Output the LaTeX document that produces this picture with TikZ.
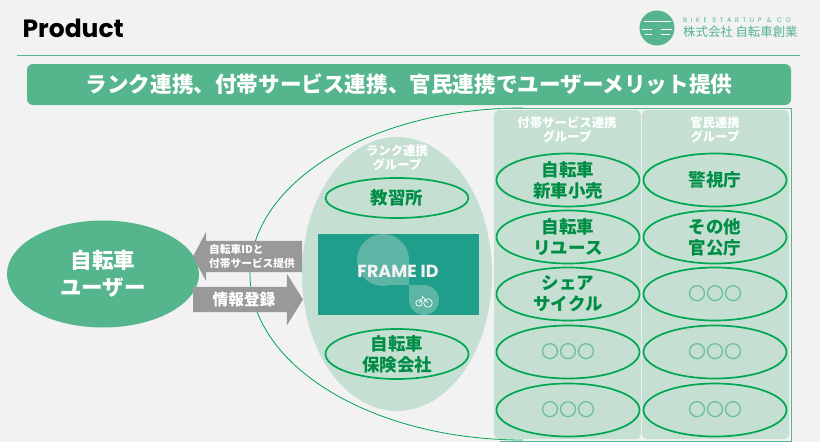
\documentclass[tikz,border=0pt]{standalone}
\usepackage{fontspec}
\setmainfont{Poppins}
\newfontfamily\jpfont{Noto Sans CJK JP}
\usetikzlibrary{positioning,shapes.geometric,shapes.arrows}
\definecolor{bggray}{HTML}{F2F2F2}
\definecolor{brandgreen}{HTML}{55B58D}
\definecolor{palegreen}{HTML}{C5E0D2}
\definecolor{ringgreen}{HTML}{00A651}
\definecolor{idteal}{HTML}{1F9E8C}
\definecolor{idlight}{HTML}{5DB5A6}
\definecolor{arrowgray}{HTML}{999999}
\newcommand{\jptext}[2]{\fontsize{#1}{#2}\selectfont\jpfont\bfseries}
\begin{document}
\begin{tikzpicture}[x=1pt,y=-1pt,
  member/.style={ellipse,draw=ringgreen,line width=1.7pt,minimum width=143pt,minimum height=53pt,inner sep=0pt,
    label={[memberlabel]center:#1}},
  memberlabel/.style={text=ringgreen!85!black,align=center,font=\jptext{17.5}{21}},
  blank/.style={member={\textcolor{brandgreen!80!palegreen}{\fontsize{18}{18}\selectfont\jpfont\mdseries 〇〇〇}}},
  grouplabel/.style={text=white,align=center,font=\jptext{12.4}{14}},
  blockarrow/.style={single arrow,fill=arrowgray,inner sep=0pt,outer sep=0pt,single arrow head indent=0pt,text depth=0pt},
  panel/.style={fill=palegreen,rounded corners=5pt}]
\useasboundingbox (0,0) rectangle (820,442);
\fill[bggray] (0,0) rectangle (820,442);

\node[anchor=west,font=\fontsize{25}{25}\selectfont\bfseries] (title) at (19,28) {Product};
\fill[brandgreen] (657,28) circle (17.5pt);
\draw[white,line width=1pt] (644,21) -- (671,21) (642,29) -- (652,29) (661,29) -- (672,29) (645,34) -- (652,34) (661,34) -- (670,34);
\node[anchor=west,inner sep=0pt,text=brandgreen,font=\fontsize{6.4}{6.4}\selectfont] (logoname) at (683,20) {\addfontfeature{LetterSpace=58}BIKE STARTUP \& CO.};
\node[anchor=west,inner sep=0pt,text=brandgreen,font=\fontsize{12.4}{12}\selectfont\jpfont] (logocompany) at (683,32) {株式会社 自転車創業};
\draw[brandgreen,line width=0.8pt] (17,55) -- (800,55);

\node[fill=brandgreen,rounded corners=6pt,minimum width=764pt,minimum height=41pt,inner sep=0pt,text=white,
  font=\jptext{21.6}{24}] (banner) at (409,84.5) {ランク連携、付帯サービス連携、官民連携でユーザーメリット提供};

\draw[ringgreen,line width=0.8pt] (523,108) arc[start angle=90,end angle=270,x radius=273pt,y radius=166pt];
\draw[brandgreen,line width=0.8pt] (500,108) -- (791,108) -- (791,441) -- (500,441);

\fill[panel] (494,110) rectangle (641,439);
\fill[panel] (642,110) rectangle (789,439);
\node[grouplabel] (servicegroup) at (567,130) {付帯サービス連携\\グループ};
\node[grouplabel] (govgroup) at (715,130) {官民連携\\グループ};

\node[member={自転車\\新車小売}] (retail) at (568,180) {};
\node[member={自転車\\リユース}] (reuse) at (568,237) {};
\node[member={シェア\\サイクル}] (share) at (568,294) {};
\node[blank] (serviceA) at (568,352) {};
\node[blank] (serviceB) at (568,410) {};
\node[member={警視庁}] (police) at (715,180) {};
\node[member={その他\\官公庁}] (agency) at (715,237) {};
\node[blank] (govA) at (715,294) {};
\node[blank] (govB) at (715,352) {};
\node[blank] (govC) at (715,410) {};

\node[ellipse,fill=palegreen,minimum width=190pt,minimum height=274pt,inner sep=0pt] (rankoval) at (397,274) {};
\node[grouplabel] (rankgroup) at (397,158) {ランク連携\\グループ};
\node[member={教習所},minimum height=40pt] (school) at (397,198) {};
\node[member={自転車\\保険会社},minimum height=50pt] (insurer) at (397,354) {};

\node[fill=idteal,minimum width=161pt,minimum height=81pt,inner sep=0pt] (idbox) at (398.5,274.5) {};
\fill[idlight] (383,260) circle (26pt);
\fill[idlight] (383,260) rectangle (409,285);
\fill[idlight] (424,300) circle (15pt);
\fill[idlight] (409,285) rectangle (424,300);
\node[text=bggray,font=\fontsize{17.5}{18}\selectfont\bfseries] (frameid) at (398,271) {FRAME ID};
\draw[white,line width=0.7pt] (419,303) circle (3.2pt) (428,303) circle (4.3pt) (419,303) -- (423,297) -- (428,303) (423,297) -- (422,296);

\node[ellipse,fill=brandgreen,minimum width=192pt,minimum height=107pt,inner sep=0pt,text=white,align=center,
  font=\jptext{21.5}{27}] (user) at (103,274) {自転車\\ユーザー};

\node[blockarrow,shape border rotate=180,text height=31pt,minimum height=109pt,single arrow tip angle=124,
  single arrow head extend=9pt,anchor=tip] (idarrow) at (193,256.5) {};
\node[text=white,align=left,inner sep=0pt,font=\jptext{10.7}{14}] (idlabel) at (252,256.5) {自転車IDと\\付帯サービス提供};
\node[blockarrow,text height=25pt,minimum height=110pt,single arrow tip angle=116,
  single arrow head extend=13pt,anchor=tail] (infoarrow) at (193,299.5) {};
\node[text=white,inner sep=0pt,font=\jptext{15.7}{18}] (infolabel) at (244,299.5) {情報登録};
\end{tikzpicture}
\end{document}
